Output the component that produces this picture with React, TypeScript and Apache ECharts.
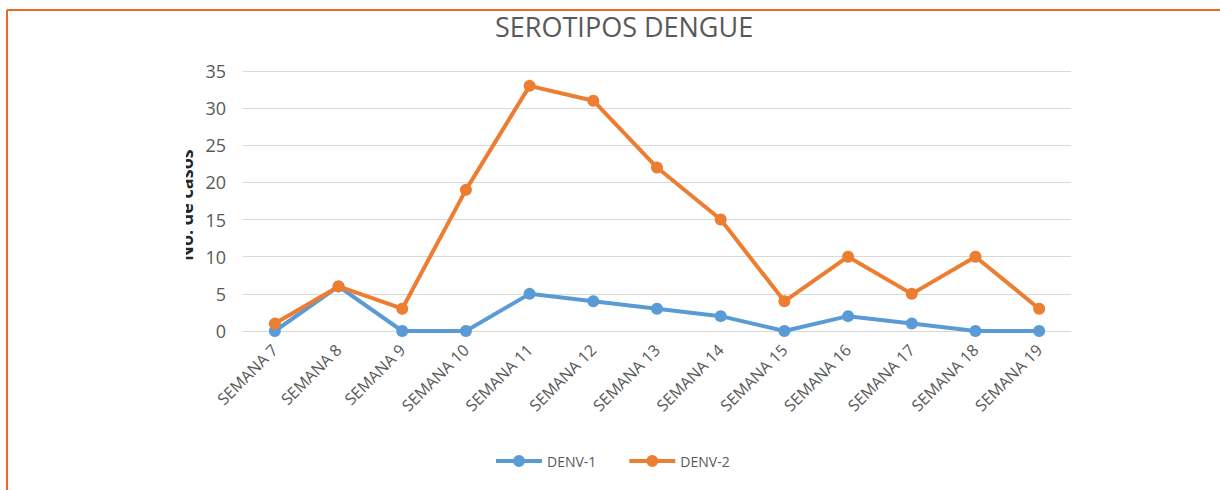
import React, { useEffect, useRef } from "react";
import * as echarts from "echarts";

const categories = [
  "SEMANA 7", "SEMANA 8", "SEMANA 9", "SEMANA 10", "SEMANA 11", "SEMANA 12", "SEMANA 13",
  "SEMANA 14", "SEMANA 15", "SEMANA 16", "SEMANA 17", "SEMANA 18", "SEMANA 19",
];
const denv1 = [0, 6, 0, 0, 5, 4, 3, 2, 0, 2, 1, 0, 0];
const denv2 = [1, 6, 3, 19, 33, 31, 22, 15, 4, 10, 5, 10, 3];
const chartTitle = "SEROTIPOS DENGUE";
const yAxisTitle = "No. de casos";

const FONT = "'Open Sans', 'Noto Sans', sans-serif";
const GRAY = "#595959";
const LEGEND_ICON =
  "path://M0,4H46V8H0Z M17,6A6,6 0 1 1 29,6A6,6 0 1 1 17,6Z";

export default function App() {
  const ref = useRef<HTMLDivElement>(null);
  useEffect(() => {
    if (!ref.current) return;
    const chart = echarts.init(ref.current, undefined, { renderer: "svg" });
    const mkSeries = (name: string, data: number[], color: string) => ({
      name,
      type: "line",
      data,
      symbol: "circle",
      symbolSize: 12,
      lineStyle: { width: 4, color },
      itemStyle: { color },
      z: name === "DENV-2" ? 3 : 2,
    });
    chart.setOption({
      animation: false,
      backgroundColor: "#ffffff",
      textStyle: { fontFamily: FONT },
      title: {
        text: chartTitle,
        left: 490,
        top: 8,
        textStyle: { fontFamily: FONT, fontSize: 27, fontWeight: "normal", color: GRAY },
      },
      legend: {
        bottom: 17,
        left: 491,
        itemWidth: 46,
        itemHeight: 12,
        itemGap: 33,
        icon: LEGEND_ICON,
        textStyle: { fontFamily: FONT, fontSize: 14, color: GRAY },
        data: ["DENV-1", "DENV-2"],
      },
      grid: { left: 243, top: 71, width: 828, height: 260, containLabel: false },
      xAxis: {
        type: "category",
        data: categories,
        boundaryGap: true,
        axisLine: { lineStyle: { color: "#D9D9D9", width: 1 } },
        axisTick: { show: false },
        axisLabel: { rotate: 45, fontFamily: FONT, fontSize: 16, color: GRAY, margin: 16, interval: 0 },
      },
      yAxis: {
        type: "value",
        min: 0,
        max: 35,
        interval: 5,
        axisLine: { show: false },
        axisTick: { show: false },
        axisLabel: { fontFamily: FONT, fontSize: 18, color: GRAY, margin: 17 },
        splitLine: { lineStyle: { color: "#D9D9D9", width: 1 } },
      },
      graphic: [
        {
          type: "text",
          x: 186,
          y: 205,
          rotation: Math.PI / 2,
          style: {
            text: yAxisTitle,
            font: `bold 18px ${FONT}`,
            fill: "#262626",
            textAlign: "center",
            textVerticalAlign: "middle",
          },
          z: 1,
        },
        { type: "rect", shape: { x: 150, y: 120, width: 36, height: 170 }, style: { fill: "#ffffff" }, z: 2 },
        { type: "line", shape: { x1: 7, y1: 10, x2: 1220, y2: 10 }, style: { stroke: "#F4622A", lineWidth: 2 }, z: 3 },
        { type: "line", shape: { x1: 7, y1: 10, x2: 7, y2: 490 }, style: { stroke: "#F4622A", lineWidth: 2 }, z: 3 },
      ],
      series: [mkSeries("DENV-1", denv1, "#5B9BD5"), mkSeries("DENV-2", denv2, "#ED7D31")],
    });
    return () => chart.dispose();
  }, []);
  return (
    <div
      ref={ref}
      style={{ position: "fixed", left: 0, top: 0, width: 1220, height: 490, background: "#fff" }}
    />
  );
}
